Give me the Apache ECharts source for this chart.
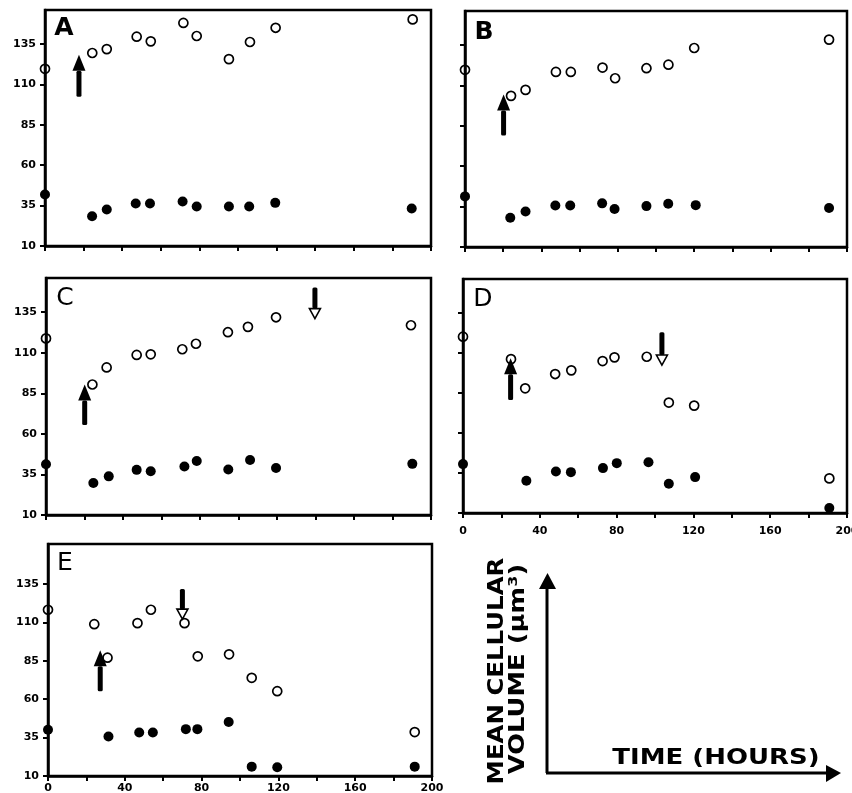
<!DOCTYPE html>
<html><head><meta charset="utf-8">
<script src="https://cdn.jsdelivr.net/npm/echarts@6/dist/echarts.min.js"></script>
<style>html,body{margin:0;padding:0;background:#fff}#c{width:852px;height:793px}</style>
</head><body><div id="c"></div>
<script>
// ---------- data ----------
const yTickValues = [10, 35, 60, 85, 110, 135];
const xTickLabelValues = [0, 40, 80, 120, 160, 200];
const panelLetters = ['A', 'B', 'C', 'D', 'E'];

const openXA = [0, 24.5, 32, 47.5, 54.8, 71.7, 78.6, 95.3, 106.2, 119.5, 190.5];
const openYA = [119.6, 129.4, 131.8, 139.5, 136.6, 148, 139.9, 125.6, 136.2, 145, 150.2];
const filledXA = [0, 24.4, 32, 47, 54.4, 71.3, 78.6, 95.3, 105.8, 119.3, 190];
const filledYA = [41.9, 28.4, 32.6, 36.3, 36.3, 37.5, 34.4, 34.4, 34.4, 36.7, 33.2];
const upArrowA = [17.6, 102.4, 128.3];
const downArrowA = null;

const openXB = [0, 24.1, 31.7, 47.6, 55.4, 72, 78.6, 95, 106.5, 120, 190.6];
const openYB = [119.6, 103.5, 107.2, 118.3, 118.3, 121, 114.4, 120.6, 122.8, 133.1, 138.3];
const filledXB = [0, 23.7, 31.7, 47.3, 55.1, 71.8, 78.3, 95, 106.4, 120.8, 190.6];
const filledYB = [41.3, 28.1, 32, 35.7, 35.7, 37, 33.5, 35.3, 36.8, 35.9, 34.1];
const upArrowB = [20.2, 79, 104.3];
const downArrowB = null;

const openXC = [0, 24.1, 31.5, 47.1, 54.4, 70.8, 77.9, 94.5, 104.9, 119.5, 189.6];
const openYC = [118.8, 90.4, 100.9, 108.6, 109, 112.1, 115.5, 122.6, 125.9, 131.8, 126.9];
const filledXC = [0, 24.6, 32.6, 47.1, 54.4, 71.9, 78.3, 94.7, 106, 119.5, 190.3];
const filledYC = [41.3, 29.7, 33.8, 37.8, 37, 39.9, 43.3, 38, 43.9, 38.9, 41.5];
const upArrowC = [20.1, 65.4, 90.4];
const downArrowC = [139.7, 150.2, 131];

const openXD = [0, 25, 32.4, 48, 56.4, 72.7, 78.9, 95.7, 107.2, 120.4, 190.8];
const openYD = [120, 106, 87.8, 96.7, 99, 104.8, 107.1, 107.5, 78.9, 77, 31.6];
const filledXD = [0, 33, 48.4, 56.2, 72.9, 80.1, 96.6, 107.2, 120.9, 190.8];
const filledYD = [40.5, 30.1, 35.9, 35.5, 38, 41.1, 41.7, 28.3, 32.4, 13.1];
const upArrowD = [24.8, 80.5, 106.5];
const downArrowD = [103.6, 122.7, 102.3];

const openXE = [0, 24.1, 31, 46.6, 53.6, 71.1, 78, 94.3, 106.1, 119.4, 191];
const openYE = [118.2, 108.8, 87, 109.5, 118.2, 109.5, 87.9, 89.2, 73.9, 65.2, 38.6];
const filledXE = [0, 31.5, 47.5, 54.6, 71.8, 77.8, 94.1, 106.1, 119.4, 191];
const filledYE = [40.1, 35.7, 38.3, 38.3, 40.5, 40.5, 45.1, 16.1, 15.7, 16.1];
const upArrowE = [27.2, 65.2, 91.8];
const downArrowE = [70, 131.7, 112.1];

const yAxisMax = [156, 156, 156, 156, 161];

const keyYLabel1 = 'MEAN CELLULAR';
const keyYLabel2 = 'VOLUME (µm³)';
const keyXLabel = 'TIME (HOURS)';

// ---------- layout ----------
const gridBoxes = [
  {left: 45, top: 10, width: 386, height: 236},
  {left: 465, top: 11, width: 382, height: 236},
  {left: 46, top: 278, width: 385, height: 237},
  {left: 463, top: 279, width: 384, height: 234},
  {left: 48, top: 544, width: 384, height: 232}
];
const letterPos = [[64, 28, 'bold'], [484, 32, 'bold'], [65, 298, 'normal'], [483, 299, 'normal'], [65, 563, 'normal']];
const showYLabels = [true, false, true, false, true];
const showXLabels = [false, false, false, true, true];
const xLabelMargin = [8, 8, 8, 13, 7];

const openX = [openXA, openXB, openXC, openXD, openXE];
const openY = [openYA, openYB, openYC, openYD, openYE];
const filledX = [filledXA, filledXB, filledXC, filledXD, filledXE];
const filledY = [filledYA, filledYB, filledYC, filledYD, filledYE];
const upArrows = [upArrowA, upArrowB, upArrowC, upArrowD, upArrowE];
const downArrows = [downArrowA, downArrowB, downArrowC, downArrowD, downArrowE];

const zip = (xs, ys) => xs.map((x, i) => [x, ys[i]]);
const labelFont = {fontSize: 11, fontWeight: 'bold', color: '#000', fontFamily: 'DejaVu Sans'};

function makeArrowRender(isUp) {
  return function (params, api) {
    const x = api.value(0), y0 = api.value(1), y1 = api.value(2);
    const p0 = api.coord([x, y0]);
    const p1 = api.coord([x, y1]);
    const dir = isUp ? -1 : 1;
    const headLen = isUp ? 16 : 10;
    const headW = isUp ? 13 : 11;
    const shaftW = 5;
    const baseY = p1[1] - dir * headLen;
    const top = Math.min(p0[1], baseY), bot = Math.max(p0[1], baseY);
    return {
      type: 'group',
      children: [
        {type: 'rect', shape: {x: p0[0] - shaftW / 2, y: top, width: shaftW, height: bot - top, r: 1.5},
         style: {fill: '#000'}},
        {type: 'polygon', shape: {points: [[p0[0] - headW / 2, baseY], [p0[0] + headW / 2, baseY], [p0[0], p1[1]]]},
         style: isUp ? {fill: '#000'} : {fill: '#fff', stroke: '#000', lineWidth: 1.6}}
      ]
    };
  };
}

const grid = [], xAxis = [], yAxis = [], series = [];
for (let i = 0; i < 5; i++) {
  grid.push(Object.assign({show: true, borderColor: '#000', borderWidth: 2.5, backgroundColor: 'transparent',
    containLabel: false, outerBoundsMode: 'none'}, gridBoxes[i]));
  xAxis.push({
    gridIndex: i, type: 'value', min: 0, max: 200, interval: 20,
    axisLine: {show: true, onZero: false, lineStyle: {color: '#000', width: 2.5}},
    axisTick: {show: true, length: 5, lineStyle: {color: '#000', width: 2}},
    axisLabel: Object.assign({show: showXLabels[i], customValues: xTickLabelValues, margin: xLabelMargin[i]}, labelFont),
    splitLine: {show: false}
  });
  yAxis.push({
    gridIndex: i, type: 'value', min: 10, max: yAxisMax[i],
    axisLine: {show: true, onZero: false, lineStyle: {color: '#000', width: 2.5}},
    axisTick: {show: true, length: 5, customValues: yTickValues, lineStyle: {color: '#000', width: 2}},
    axisLabel: Object.assign({show: showYLabels[i], customValues: yTickValues, margin: 9}, labelFont),
    splitLine: {show: false}
  });
  series.push({
    type: 'scatter', xAxisIndex: i, yAxisIndex: i, data: zip(openX[i], openY[i]),
    symbol: 'circle', symbolSize: 9, z: 3,
    itemStyle: {color: 'rgba(0,0,0,0)', borderColor: '#000', borderWidth: 1.7, opacity: 1}
  });
  series.push({
    type: 'scatter', xAxisIndex: i, yAxisIndex: i, data: zip(filledX[i], filledY[i]),
    symbol: 'circle', symbolSize: 10, z: 3,
    itemStyle: {color: '#000', opacity: 1}
  });
  if (upArrows[i]) series.push({
    type: 'custom', xAxisIndex: i, yAxisIndex: i, data: [upArrows[i]], z: 4,
    renderItem: makeArrowRender(true), silent: true
  });
  if (downArrows[i]) series.push({
    type: 'custom', xAxisIndex: i, yAxisIndex: i, data: [downArrows[i]], z: 4,
    renderItem: makeArrowRender(false), silent: true
  });
}

const graphic = [];
panelLetters.forEach((t, i) => {
  graphic.push({type: 'text', x: letterPos[i][0], y: letterPos[i][1], z: 10,
    style: {text: t, font: letterPos[i][2] + ' 25px "DejaVu Sans"', fill: '#000', textAlign: 'center', textVerticalAlign: 'middle'}});
});
// key: axes arrows
graphic.push({type: 'line', shape: {x1: 547, y1: 773, x2: 547, y2: 586}, style: {stroke: '#000', lineWidth: 3}});
graphic.push({type: 'polygon', shape: {points: [[539, 589], [556, 589], [547.5, 573]]}, style: {fill: '#000'}});
graphic.push({type: 'line', shape: {x1: 546, y1: 773, x2: 829, y2: 773}, style: {stroke: '#000', lineWidth: 3}});
graphic.push({type: 'polygon', shape: {points: [[826, 765], [826, 782], [841, 773]]}, style: {fill: '#000'}});
// key labels
graphic.push({type: 'text', x: 497, y: 671, rotation: Math.PI / 2, scaleX: 1.11,
  style: {text: keyYLabel1, font: 'bold 22px "DejaVu Sans"', fill: '#000', textAlign: 'center', textVerticalAlign: 'middle'}});
graphic.push({type: 'text', x: 518, y: 669, rotation: Math.PI / 2, scaleX: 1.17,
  style: {text: keyYLabel2, font: 'bold 22px "DejaVu Sans"', fill: '#000', textAlign: 'center', textVerticalAlign: 'middle'}});
graphic.push({type: 'text', x: 716, y: 758, scaleX: 1.18,
  style: {text: keyXLabel, font: 'bold 22px "DejaVu Sans"', fill: '#000', textAlign: 'center', textVerticalAlign: 'middle'}});

const chart = echarts.init(document.getElementById('c'), null, {renderer: 'canvas'});
chart.setOption({
  animation: false,
  backgroundColor: '#fff',
  grid, xAxis, yAxis, series, graphic
});
</script>
</body></html>
